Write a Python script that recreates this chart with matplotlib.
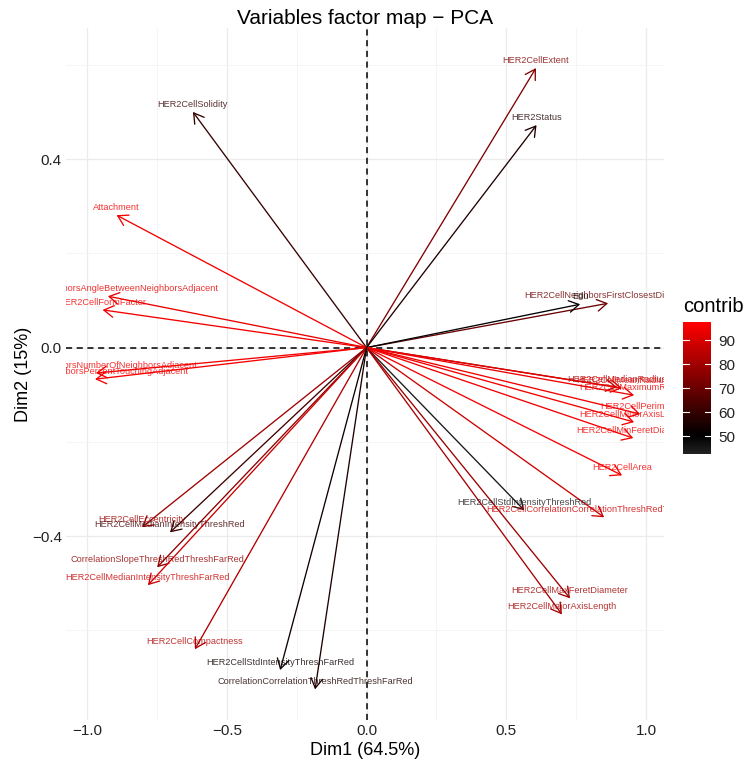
import matplotlib
matplotlib.use("Agg")
import matplotlib.pyplot as plt
from matplotlib.colors import LinearSegmentedColormap, Normalize
from matplotlib.cm import ScalarMappable
from matplotlib.transforms import offset_copy

plt.rcParams["font.family"] = ["Liberation Sans", "DejaVu Sans"]

# ── Data ──────────────────────────────────────────────────────────────────────
variables = [
    "HER2CellExtent", "HER2Status", "HER2CellSolidity", "Attachment",
    "HER2CellNeighborsAngleBetweenNeighborsAdjacent", "HER2CellFormFactor",
    "HER2CellNeighborsNumberOfNeighborsAdjacent", "HER2CellNeighborsPercentTouchingAdjacent",
    "HER2CellNeighborsFirstClosestDistance", "Edu",
    "HER2CellMedianRadius", "HER2CellMeanRadius", "HER2CellMaximumRadius",
    "HER2CellPerimeter", "HER2CellMinorAxisLength", "HER2CellMinFeretDiameter",
    "HER2CellArea", "HER2CellStdIntensityThreshRed",
    "HER2CellCorrelationCorrelationThreshRedThreshFarRed",
    "HER2CellMaxFeretDiameter", "HER2CellMajorAxisLength",
    "HER2CellEccentricity", "HER2CellMedianIntensityThreshRed",
    "CorrelationSlopeThreshRedThreshFarRed", "HER2CellMedianIntensityThreshFarRed",
    "HER2CellCompactness", "HER2CellStdIntensityThreshFarRed",
    "CorrelationCorrelationThreshRedThreshFarRed",
]
dim1 = [0.606, 0.608, -0.621, -0.894, -0.925, -0.944, -0.968, -0.971, 0.864, 0.764,
        0.896, 0.914, 0.957, 0.979, 0.957, 0.954, 0.914, 0.564, 0.850, 0.728,
        0.699, -0.803, -0.703, -0.749, -0.782, -0.614, -0.309, -0.184]
dim2 = [0.593, 0.472, 0.500, 0.281, 0.109, 0.080, -0.054, -0.067, 0.094, 0.092,
        -0.084, -0.086, -0.101, -0.141, -0.158, -0.192, -0.271, -0.345, -0.360, -0.532,
        -0.566, -0.381, -0.392, -0.466, -0.504, -0.640, -0.684, -0.725]
contrib = [74, 56, 60, 95, 93, 95, 95, 96, 70, 50,
           82, 92, 94, 95, 95, 95, 96, 45, 88, 79,
           81, 80, 62, 77, 88, 83, 53, 56]

pct1, pct2 = 64.5, 15
cbar_ticks = [50, 60, 70, 80, 90]

# ── Colour scale ──────────────────────────────────────────────────────────────
vmin, vmax = 42.5, 97.5
cmap = LinearSegmentedColormap.from_list(
    "contrib", [(0.0, "#222222"), (0.14, "#000000"), (1.0, "#FF0000")])
norm = Normalize(vmin, vmax)

fig = plt.figure(figsize=(7.54, 7.65), dpi=100)
ax = fig.add_axes([66 / 754, 45 / 765, 598 / 754, 692 / 765])
ax.set_xlim(-1.075, 1.064)
ax.set_ylim(-0.79, 0.678)

ax.set_xticks([-1.0, -0.5, 0.0, 0.5, 1.0])
ax.set_xticks([-0.75, -0.25, 0.25, 0.75], minor=True)
ax.set_yticks([-0.4, 0.0, 0.4])
ax.set_yticks([-0.6, -0.2, 0.2, 0.6], minor=True)
ax.grid(which="major", color="#EBEBEB", lw=0.9)
ax.grid(which="minor", color="#F4F4F4", lw=0.6)
ax.set_axisbelow(True)
for s in ax.spines.values():
    s.set_visible(False)
ax.tick_params(which="both", length=0, labelsize=11, labelcolor="#222222", pad=3)

ax.axhline(0, color="black", lw=1.1, ls=(0, (4, 3)), zorder=1)
ax.axvline(0, color="black", lw=1.1, ls=(0, (4, 3)), zorder=1)

lab_tr = offset_copy(ax.transData, fig=fig, x=0, y=3, units="dots")
for name, x, y, c in zip(variables, dim1, dim2, contrib):
    col = cmap(norm(c))
    ax.annotate("", xy=(x, y), xytext=(0, 0),
                arrowprops=dict(arrowstyle="->,head_length=0.5,head_width=0.3",
                                color=col, lw=0.95, shrinkA=0, shrinkB=0,
                                mutation_scale=14), zorder=3)
    ax.text(x, y, name, transform=lab_tr, ha="center", va="bottom",
            fontsize=6.6, color=col, alpha=0.8, clip_on=True, zorder=4)

ax.set_xlabel(f"Dim1 ({pct1}%)", fontsize=13, labelpad=3)
ax.set_ylabel(f"Dim2 ({pct2}%)", fontsize=13, labelpad=0)
ax.set_title("Variables factor map \u2212 PCA", fontsize=15, pad=2)

# ── Colour bar ────────────────────────────────────────────────────────────────
cax = fig.add_axes([683 / 754, (765 - 454) / 765, 28 / 754, 132 / 765])
cb = fig.colorbar(ScalarMappable(norm=norm, cmap=cmap), cax=cax, ticks=cbar_ticks)
cb.outline.set_visible(False)
cax.tick_params(length=0, labelsize=11, labelcolor="#222222", pad=5)
ytr = cax.get_yaxis_transform()
for t in cbar_ticks:
    cax.plot([0, 0.2], [t, t], color="white", lw=0.8, transform=ytr)
    cax.plot([0.8, 1.0], [t, t], color="white", lw=0.8, transform=ytr)
fig.text(683 / 754, 1 - 307 / 765, "contrib", fontsize=14.5, ha="left", va="center")

fig.savefig("out.png", dpi=100)
